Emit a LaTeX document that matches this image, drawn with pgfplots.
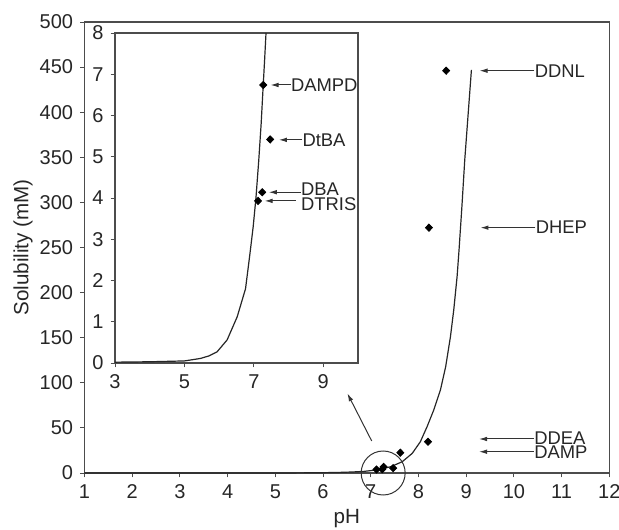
\documentclass[border=0pt]{standalone}
\usepackage{fontspec}
\setmainfont{Liberation Sans}
\usepackage{pgfplots}
\pgfplotsset{compat=1.18}
\usetikzlibrary{arrows.meta}

\pgfplotstableread{
x y
1 0.02
3 0.02
4 0.03
5 0.05
5.5 0.12
6 0.35
6.3 0.6
6.6 1.1
6.86 1.8
7.14 3.5
7.42 7
7.66 12.5
7.87 21.8
8.04 34.7
8.18 51.3
8.32 69.8
8.46 92
8.57 117.8
8.67 151
8.74 181
8.81 218
8.85 247
8.91 295
8.97 347
9.04 397
9.11 447
}\maincurve

\pgfplotstableread{
x y
3 0.02
4 0.03
4.5 0.04
5 0.05
5.46 0.11
5.7 0.17
5.94 0.27
6.23 0.56
6.52 1.12
6.76 1.8
6.88 2.6
6.98 3.3
7.06 4.0
7.14 4.9
7.21 5.8
7.27 6.74
7.31 7.35
7.35 8.0
}\insetcurve

\pgfplotstableread{
x y
8.58 446
8.22 272
8.20 34.7
7.62 22.5
7.47 5.42
7.27 6.74
7.24 4.14
7.12 3.93
}\mainpts

\pgfplotstableread{
x y
7.27 6.74
7.47 5.42
7.24 4.14
7.12 3.93
}\insetpts

\begin{document}
\begin{tikzpicture}[font=\fontsize{9.2}{11}\selectfont, >={Latex[length=4pt,width=2.3pt]}]
\pgfplotsset{
 every axis/.append style={
   scale only axis,
   axis line style={black!70, line width=0.6pt},
   tick style={black!70, line width=0.5pt},
   tick align=outside, xtick pos=left, ytick pos=left,
   major tick length=2.2pt,
   /pgf/number format/assume math mode=true,
   ticklabel style={text=black!85, font=\fontsize{10}{12}\selectfont},
   label style={text=black!85, font=\fontsize{10.3}{12}\selectfont},
 }
}
\begin{axis}[at={(0,0)}, anchor=south west, width=262.4pt, height=225.5pt,
 xmin=1, xmax=12, ymin=0, ymax=500,
 xtick={1,...,12}, ytick={0,50,...,500},
 xlabel={pH}, ylabel={Solubility (mM)}, clip=false,
 xlabel style={at={(axis description cs:0.5,-0.1008)}, anchor=center},
 ylabel style={at={(axis description cs:-0.1172,0.5)}, anchor=center},
]
\addplot[black!85, line width=0.6pt] table[x=x,y=y] {\maincurve};
\addplot[only marks, mark=diamond*, mark size=1.8pt, black, mark options={xscale=1.3}] table[x=x,y=y] {\mainpts};
\draw[black!80, line width=0.5pt] (axis cs:7.26,0) circle[radius=11pt];
\draw[black!80, line width=0.5pt, ->] (axis cs:7.02,35.5) -- (axis cs:6.51,88.3);
\draw[black!80, line width=0.5pt, ->] (axis cs:10.43,446) -- (axis cs:9.28,446);
\node[anchor=west, inner sep=0pt, text=black!85] at (axis cs:10.43,446) {DDNL};
\draw[black!80, line width=0.5pt, ->] (axis cs:10.45,272) -- (axis cs:9.30,272);
\node[anchor=west, inner sep=0pt, text=black!85] at (axis cs:10.45,272) {DHEP};
\draw[black!80, line width=0.5pt, ->] (axis cs:10.42,37.7) -- (axis cs:9.27,37.7);
\node[anchor=west, inner sep=0pt, text=black!85] at (axis cs:10.42,38.5) {DDEA};
\draw[black!80, line width=0.5pt, ->] (axis cs:10.42,23.6) -- (axis cs:9.27,23.6);
\node[anchor=west, inner sep=0pt, text=black!85] at (axis cs:10.42,22.6) {DAMP};
\end{axis}
\begin{axis}[at={(15.25pt,55pt)}, anchor=south west, width=121.5pt, height=165pt,
 xmin=3, xmax=10, ymin=0, ymax=8,
 xtick={3,5,7,9}, ytick={0,...,8},
 axis background/.style={fill=white}, clip=false,
]
\addplot[black!85, line width=0.6pt] table[x=x,y=y] {\insetcurve};
\addplot[only marks, mark=diamond*, mark size=1.8pt, black, mark options={xscale=1.3}] table[x=x,y=y] {\insetpts};
\draw[black!80, line width=0.5pt, ->] (axis cs:8.06,6.74) -- (axis cs:7.48,6.74);
\node[anchor=west, inner sep=0pt, text=black!85] at (axis cs:8.06,6.74) {DAMPD};
\draw[black!80, line width=0.5pt, ->] (axis cs:8.39,5.41) -- (axis cs:7.72,5.41);
\node[anchor=west, inner sep=0pt, text=black!85] at (axis cs:8.39,5.41) {DtBA};
\draw[black!80, line width=0.5pt, ->] (axis cs:8.35,4.14) -- (axis cs:7.43,4.14);
\node[anchor=west, inner sep=0pt, text=black!85] at (axis cs:8.35,4.21) {DBA};
\draw[black!80, line width=0.5pt, ->] (axis cs:8.20,3.93) -- (axis cs:7.31,3.93);
\node[anchor=west, inner sep=0pt, text=black!85] at (axis cs:8.35,3.84) {DTRIS};
\end{axis}
\pgfresetboundingbox
\path[use as bounding box] (-42.25pt,-28pt) rectangle (267.25pt,236.5pt);
\end{tikzpicture}
\end{document}
